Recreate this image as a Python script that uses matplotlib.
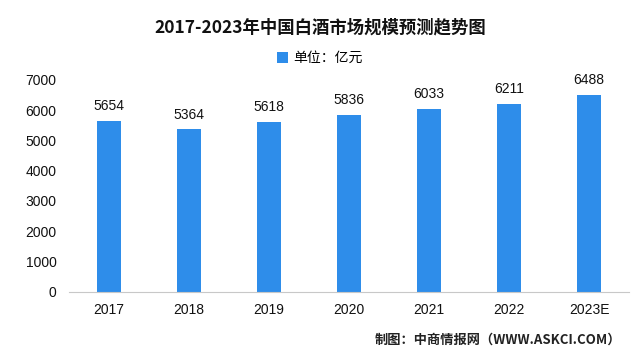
import matplotlib.pyplot as plt

plt.rcParams['font.family'] = ['Noto Sans CJK SC', 'DejaVu Sans']

years = ['2017', '2018', '2019', '2020', '2021', '2022', '2023E']
market_size = [5654, 5364, 5618, 5836, 6033, 6211, 6488]
y_ticks = [0, 1000, 2000, 3000, 4000, 5000, 6000, 7000]

bar_colour = '#2E8DEA'
num_font = 'Liberation Sans'

fig = plt.figure(figsize=(6.4, 3.63), dpi=100)
ax = fig.add_axes([0.108, 0.196, 0.875, 0.584])

x = range(len(years))
bars = ax.bar(x, market_size, width=0.3, color=bar_colour, label='单位：亿元', zorder=2)

# value labels above each bar
for xi, v in zip(x, market_size):
    ax.text(xi, v + 260, str(v), ha='center', va='bottom', fontsize=10,
            family=num_font, color='#111111', clip_on=False)

ax.set_xlim(-0.5, 6.5)
ax.set_ylim(0, 7000)
ax.set_xticks(list(x))
ax.set_xticklabels(years, family=num_font, fontsize=10, color='#111111')
ax.set_yticks(y_ticks)
ax.set_yticklabels([str(t) for t in y_ticks], family=num_font, fontsize=10, color='#111111')
ax.tick_params(length=0)
ax.tick_params(axis='x', pad=8)
ax.tick_params(axis='y', pad=9)

for side in ['top', 'right', 'left']:
    ax.spines[side].set_visible(False)
ax.spines['bottom'].set_color('#c8c8c8')

fig.text(0.5, 0.925, '2017-2023年中国白酒市场规模预测趋势图', ha='center', va='center',
         fontsize=12.5, fontweight='bold', color='#111111')

fig.legend(handles=[bars], labels=['单位：亿元'], loc='center', bbox_to_anchor=(0.5, 0.84),
           frameon=False, fontsize=10, handlelength=0.8, handleheight=0.8, handletextpad=0.4)

fig.text(0.97, 0.065, '制图：中商情报网（WWW.ASKCI.COM）', ha='right', va='center',
         fontsize=9.5, fontweight='bold', color='#222222')

fig.savefig('out.png', dpi=100)
